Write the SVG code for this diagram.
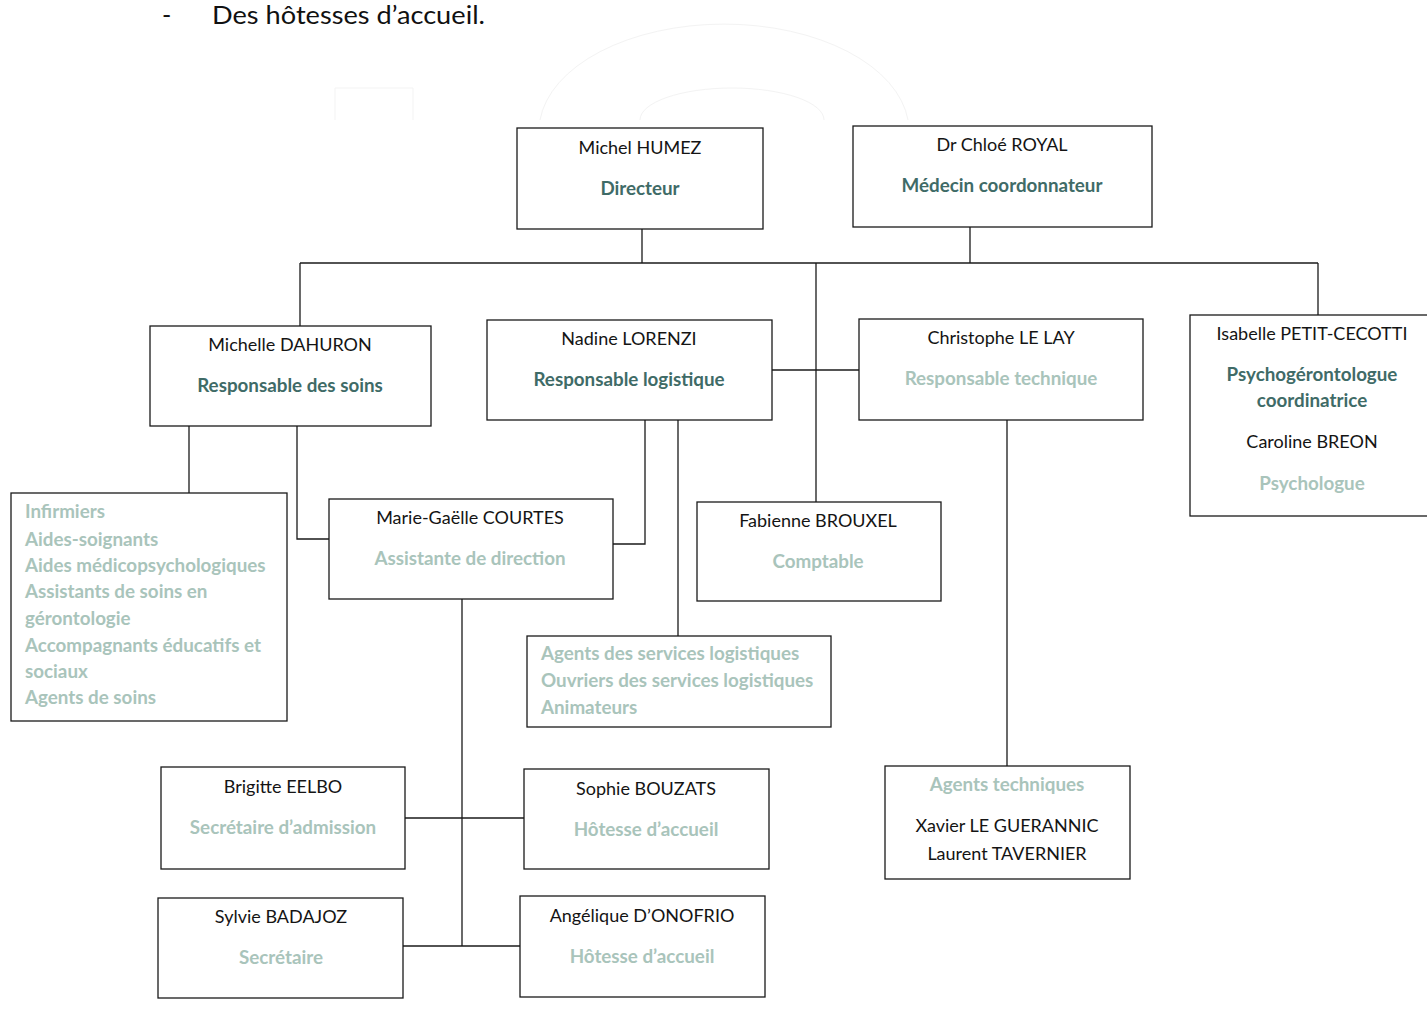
<svg xmlns="http://www.w3.org/2000/svg" width="1427" height="1010" viewBox="0 0 1427 1010">
<style>
  .box { fill: #ffffff; stroke: #1a1a1a; stroke-width: 1.3; }
  .name { font-family: Lato, "Liberation Sans", sans-serif; font-size: 18px; fill: #141414; text-anchor: middle; }
  .role { font-family: Lato, "Liberation Sans", sans-serif; font-size: 18.8px; font-weight: bold; fill: #3f6b67; text-anchor: middle; }
  .light { font-family: Lato, "Liberation Sans", sans-serif; font-size: 18.8px; font-weight: bold; fill: #a9c4bb; text-anchor: middle; }
  .list { font-family: Lato, "Liberation Sans", sans-serif; font-size: 18.8px; font-weight: bold; fill: #a9c4bb; }
  .conn { stroke: #1a1a1a; stroke-width: 1.3; fill: none; }
  .ghost { stroke: #f3f3f3; stroke-width: 1; fill: none; }
  .top { font-family: Lato, "Liberation Sans", sans-serif; font-size: 25px; fill: #111111; }
</style>
<rect width="1427" height="1010" fill="#ffffff"/>
<g id="header">
  <text class="top" x="162" y="24">-</text>
  <text class="top" x="212" y="24" textLength="273" lengthAdjust="spacingAndGlyphs">Des hôtesses d’accueil.</text>
</g>
<g id="ghosts">
  <path class="ghost" d="M335,120 V88 H413 V120"/>
  <path class="ghost" d="M540,120 A185 107 0 0 1 908,120"/>
  <path class="ghost" d="M640,120 A92 32 0 0 1 824,120"/>
</g>
<g id="connectors">
  <path class="conn" d="M642,229 V263"/>
  <path class="conn" d="M970,227 V263"/>
  <path class="conn" d="M300,263 H1318"/>
  <path class="conn" d="M300,263 V326"/>
  <path class="conn" d="M1318,263 V315"/>
  <path class="conn" d="M816,263 V502"/>
  <path class="conn" d="M772,370 H859"/>
  <path class="conn" d="M189,426 V493"/>
  <path class="conn" d="M297,426 V539 H329"/>
  <path class="conn" d="M645,420 V544 H613"/>
  <path class="conn" d="M678,420 V636"/>
  <path class="conn" d="M1007,420 V766"/>
  <path class="conn" d="M462,599 V946"/>
  <path class="conn" d="M405,818 H524"/>
  <path class="conn" d="M403,946 H520"/>
</g>
<g id="humez">
  <rect class="box" x="517" y="128" width="246" height="101"/>
  <text class="name" x="640" y="154">Michel HUMEZ</text>
  <text class="role" x="640" y="195">Directeur</text>
</g>
<g id="royal">
  <rect class="box" x="853" y="126" width="299" height="101"/>
  <text class="name" x="1002" y="151">Dr Chloé ROYAL</text>
  <text class="role" x="1002" y="192">Médecin coordonnateur</text>
</g>
<g id="dahuron">
  <rect class="box" x="150" y="326" width="281" height="100"/>
  <text class="name" x="290" y="351">Michelle DAHURON</text>
  <text class="role" x="290" y="392">Responsable des soins</text>
</g>
<g id="lorenzi">
  <rect class="box" x="487" y="320" width="285" height="100"/>
  <text class="name" x="629" y="345">Nadine LORENZI</text>
  <text class="role" x="629" y="386">Responsable logistique</text>
</g>
<g id="lelay">
  <rect class="box" x="859" y="319" width="284" height="101"/>
  <text class="name" x="1001" y="344">Christophe LE LAY</text>
  <text class="light" x="1001" y="385">Responsable technique</text>
</g>
<g id="petit-cecotti">
  <rect class="box" x="1190" y="315" width="240" height="201"/>
  <text class="name" x="1312" y="340">Isabelle PETIT-CECOTTI</text>
  <text class="role" x="1312" y="381">Psychogérontologue</text>
  <text class="role" x="1312" y="407">coordinatrice</text>
  <text class="name" x="1312" y="448">Caroline BREON</text>
  <text class="light" x="1312" y="490">Psychologue</text>
</g>
<g id="soins">
  <rect class="box" x="11" y="493" width="276" height="228"/>
  <text class="list" x="25" y="518">Infirmiers</text>
  <text class="list" x="25" y="546">Aides-soignants</text>
  <text class="list" x="25" y="572">Aides médicopsychologiques</text>
  <text class="list" x="25" y="598">Assistants de soins en</text>
  <text class="list" x="25" y="625">gérontologie</text>
  <text class="list" x="25" y="652">Accompagnants éducatifs et</text>
  <text class="list" x="25" y="678">sociaux</text>
  <text class="list" x="25" y="704">Agents de soins</text>
</g>
<g id="courtes">
  <rect class="box" x="329" y="499" width="284" height="100"/>
  <text class="name" x="470" y="524">Marie-Gaëlle COURTES</text>
  <text class="light" x="470" y="565">Assistante de direction</text>
</g>
<g id="brouxel">
  <rect class="box" x="697" y="502" width="244" height="99"/>
  <text class="name" x="818" y="527">Fabienne BROUXEL</text>
  <text class="light" x="818" y="568">Comptable</text>
</g>
<g id="logistique">
  <rect class="box" x="527" y="636" width="304" height="91"/>
  <text class="list" x="541" y="660">Agents des services logistiques</text>
  <text class="list" x="541" y="687">Ouvriers des services logistiques</text>
  <text class="list" x="541" y="714">Animateurs</text>
</g>
<g id="techniques">
  <rect class="box" x="885" y="766" width="245" height="113"/>
  <text class="light" x="1007" y="791">Agents techniques</text>
  <text class="name" x="1007" y="832">Xavier LE GUERANNIC</text>
  <text class="name" x="1007" y="860">Laurent TAVERNIER</text>
</g>
<g id="eelbo">
  <rect class="box" x="161" y="767" width="244" height="102"/>
  <text class="name" x="283" y="793">Brigitte EELBO</text>
  <text class="light" x="283" y="834">Secrétaire d’admission</text>
</g>
<g id="bouzats">
  <rect class="box" x="524" y="769" width="245" height="100"/>
  <text class="name" x="646" y="795">Sophie BOUZATS</text>
  <text class="light" x="646" y="836">Hôtesse d’accueil</text>
</g>
<g id="badajoz">
  <rect class="box" x="158" y="898" width="245" height="100"/>
  <text class="name" x="281" y="923">Sylvie BADAJOZ</text>
  <text class="light" x="281" y="964">Secrétaire</text>
</g>
<g id="donofrio">
  <rect class="box" x="520" y="896" width="245" height="101"/>
  <text class="name" x="642" y="922">Angélique D’ONOFRIO</text>
  <text class="light" x="642" y="963">Hôtesse d’accueil</text>
</g>
</svg>
